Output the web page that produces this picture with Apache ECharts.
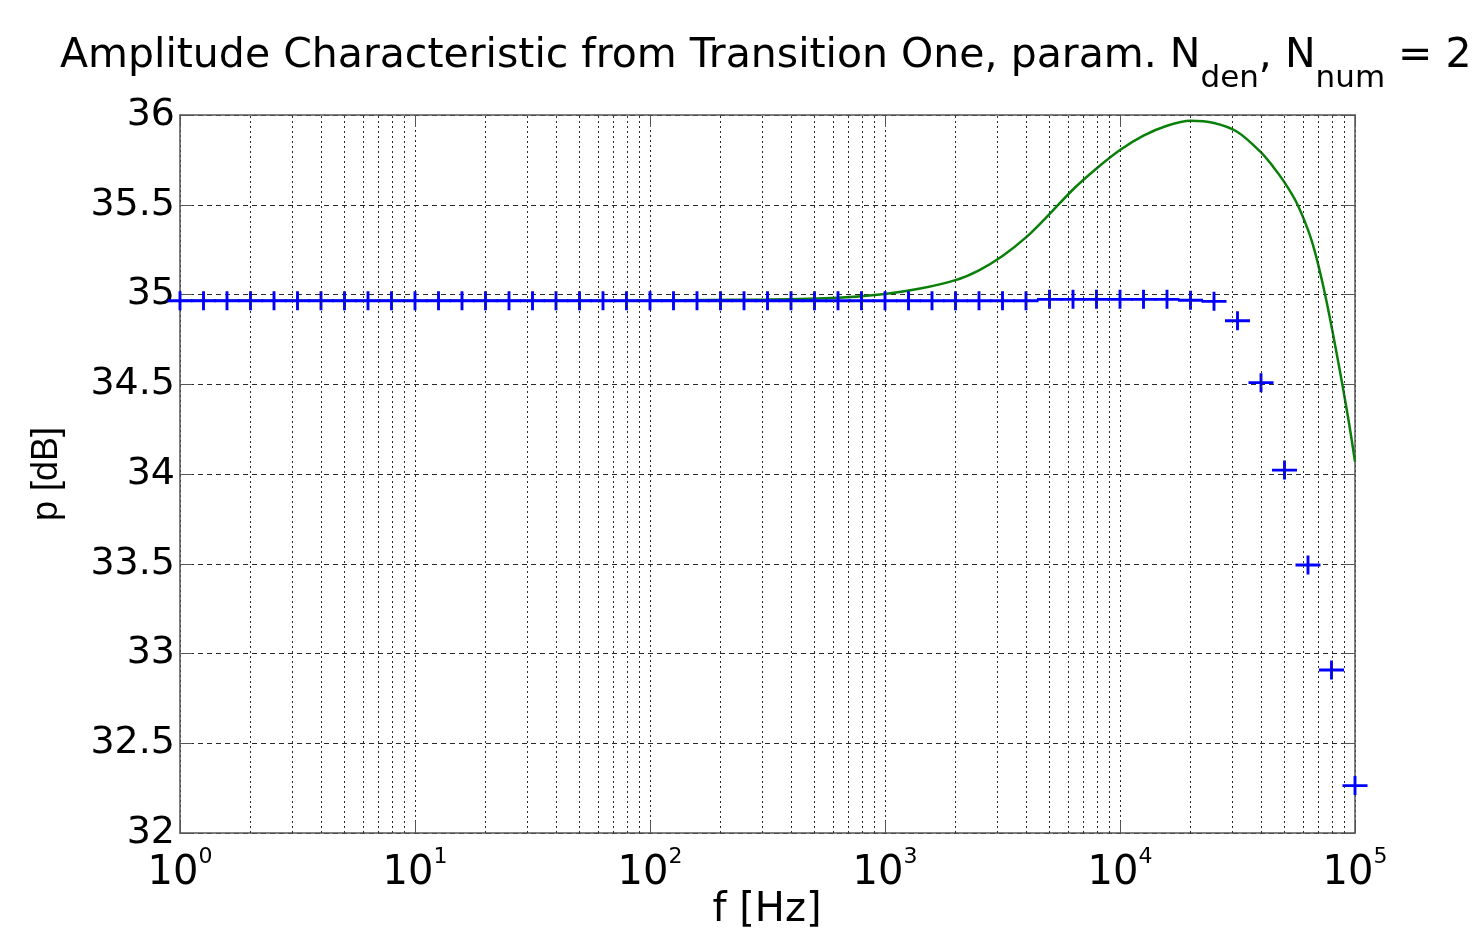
<!DOCTYPE html>
<html>
<head>
<meta charset="utf-8">
<script src="https://cdn.jsdelivr.net/npm/echarts@6/dist/echarts.min.js"></script>
<style>
html,body{margin:0;padding:0;background:#fff;}
#chart{width:1476px;height:937px;}
</style>
</head>
<body>
<div id="chart"></div>
<script>
// ---- data ----
// blue "+" points: frequencies 10^(k/10), k = 0..50
const blueExponents = [0,0.1,0.2,0.3,0.4,0.5,0.6,0.7,0.8,0.9,1,1.1,1.2,1.3,1.4,1.5,1.6,1.7,1.8,1.9,2,2.1,2.2,2.3,2.4,2.5,2.6,2.7,2.8,2.9,3,3.1,3.2,3.3,3.4,3.5,3.6,3.7,3.8,3.9,4,4.1,4.2,4.3,4.4,4.5,4.6,4.7,4.8,4.9,5];
const blueValues = [34.965,34.965,34.965,34.965,34.965,34.965,34.965,34.965,34.965,34.965,
  34.965,34.965,34.965,34.965,34.965,34.965,34.965,34.965,34.965,34.965,
  34.965,34.965,34.965,34.965,34.965,34.965,34.965,34.965,34.965,34.965,
  34.965,34.965,34.965,34.965,34.965,34.965,34.965,34.973,34.973,34.973,
  34.973,34.973,34.973,34.968,34.962,34.854,34.509,34.022,33.493,32.908,32.264];
// green curve: log10 of frequency and level in dB
const greenExponents = [0,1,2,2.5,2.8,3.0,3.15,3.3,3.4,3.5,3.6,3.7,3.8,3.9,4.0,4.1,4.2,4.3,4.4,4.5,4.6,4.65,4.7,4.75,4.8,4.83,4.86,4.89,4.92,4.95,4.975,5.0];
const greenValues = [34.965,34.965,34.967,34.972,34.982,35.003,35.033,35.080,35.135,35.215,35.318,35.448,35.585,35.702,35.805,35.885,35.940,35.968,35.955,35.905,35.792,35.715,35.625,35.515,35.360,35.235,35.075,34.890,34.685,34.470,34.280,34.070];
// axis ticks
const yTicks = [32,32.5,33,33.5,34,34.5,35,35.5,36];
const xDecades = [1,10,100,1000,10000,100000];
const minorMultipliers = [2,3,4,5,6,7,8,9];
const xAxisTitle = 'f [Hz]';
const yAxisTitle = 'p [dB]';

const minorGrid = [];
xDecades.slice(0,5).forEach(d => minorMultipliers.forEach(m => minorGrid.push(d*m)));

const chart = echarts.init(document.getElementById('chart'), null, {renderer:'canvas'});
const FONT = 'DejaVu Sans, sans-serif';
const FONT2 = 'Liberation Sans, Arial, sans-serif';
const gridColor = '#2a2a2a';
const axisColor = '#555';

const option = {
  animation: false,
  backgroundColor: '#fff',
  title: {
    text: '{t|Amplitude Characteristic from Transition One, param. N}{s|den}{t|, N}{s|num}{t| = 2}',
    left: 55, top: 29,
    textStyle: {
      fontWeight: 'normal',
      rich: {
        t: {fontFamily: FONT, fontSize: 41, fontWeight:'normal', color:'#000', lineHeight: 44},
        s: {fontFamily: FONT, fontSize: 31, fontWeight:'normal', color:'#000', lineHeight: 44, padding:[46,0,0,0]}
      }
    }
  },
  graphic: [{
    type:'text', x:767, y:911, silent:true,
    style:{text:xAxisTitle, fontFamily:'DejaVu Sans', fontSize:40, fill:'#000', align:'center', verticalAlign:'middle'}
  }],
  grid: {left:180, top:115, right:121, bottom:104, containLabel:false, outerBoundsMode:'none'},
  xAxis: [{
    type:'log', logBase:10, min:1, max:100000,
    axisLine:{show:true, lineStyle:{color:axisColor, width:1.5}},
    axisTick:{show:true, inside:true, length:12, lineStyle:{color:axisColor}},
    splitLine:{show:true, lineStyle:{color:gridColor, type:[2,3], width:1}},
    axisLabel:{
      margin: 20,
      formatter: v => '{b|10}{p|' + Math.round(Math.log10(v)) + '}',
      rich:{
        b:{fontFamily:FONT, fontSize:40, color:'#000', lineHeight:42},
        p:{fontFamily:FONT, fontSize:22, color:'#000', lineHeight:42, padding:[0,0,34,0]}
      }
    }
  },{
    type:'log', logBase:10, min:1, max:100000, position:'top',
    axisLine:{show:true, lineStyle:{color:axisColor, width:1.5}},
    axisTick:{show:true, inside:true, length:12, lineStyle:{color:axisColor}},
    axisLabel:{show:false}, splitLine:{show:false}
  }],
  yAxis: [{
    type:'value', min:32, max:36, interval:0.5,
    name:yAxisTitle, nameLocation:'middle', nameGap:115, nameRotate:90, nameMoveOverlap:false,
    nameTextStyle:{fontFamily:FONT2, fontSize:36, color:'#000'},
    axisLine:{show:true, lineStyle:{color:axisColor, width:1.5}},
    axisTick:{show:true, inside:true, length:12, lineStyle:{color:axisColor}},
    splitLine:{show:true, lineStyle:{color:gridColor, type:[5,4], width:1}},
    axisLabel:{fontFamily:FONT, fontSize:38, color:'#000', margin:5}
  },{
    type:'value', min:32, max:36, interval:0.5, position:'right',
    axisLine:{show:true, lineStyle:{color:axisColor, width:1.5}},
    axisTick:{show:true, inside:true, length:12, lineStyle:{color:axisColor}},
    axisLabel:{show:false}, splitLine:{show:false}
  }],
  series: [{
    type:'line', name:'model', xAxisIndex:0, yAxisIndex:0,
    data: greenExponents.map((e,i)=>[Math.pow(10,e), greenValues[i]]),
    showSymbol:false, smooth:0.3,
    lineStyle:{color:'#0a800a', width:2.5},
    markLine:{
      silent:true, symbol:'none', label:{show:false},
      lineStyle:{color:gridColor, type:[2,3], width:1},
      data: minorGrid.map(f=>({xAxis:f}))
    },
    z:3
  },{
    type:'scatter', name:'measured', xAxisIndex:0, yAxisIndex:0,
    data: blueExponents.map((e,i)=>[Math.pow(10,e), blueValues[i]]),
    symbol:'path://M0,8.5H11.5V0H14.5V8.5H26V11.5H14.5V20H11.5V11.5H0Z',
    symbolSize:[25,19], symbolKeepAspect:false,
    itemStyle:{color:'#0000ff', opacity:1},
    clip:false, z:4
  }]
};
chart.setOption(option);
</script>
</body>
</html>
